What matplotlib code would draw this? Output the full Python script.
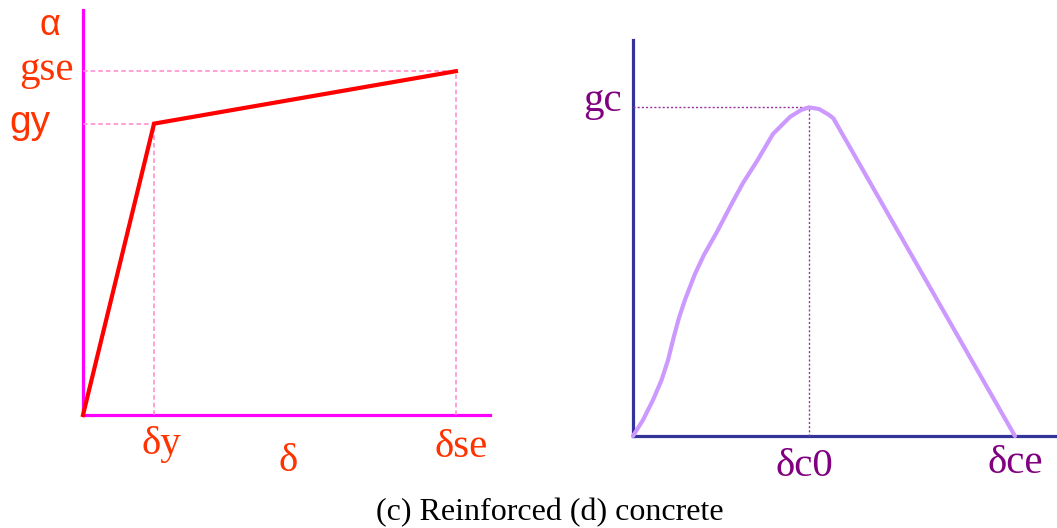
import matplotlib
matplotlib.use("Agg")
import matplotlib.pyplot as plt

# (c) reinforcing steel: bilinear skeleton curve
steel_delta = [0.0, 1.0, 5.25]          # 0, delta_y, delta_se
steel_alpha = [0.0, 1.0, 1.18]          # 0, g_y, g_se
steel_xlim = 5.73
steel_ylim = 1.39

# (d) concrete: rising curve to the peak, then linear softening
conc_delta = [0.0, 0.057, 0.114, 0.162, 0.199, 0.233, 0.261, 0.295, 0.352,
              0.403, 0.477, 0.557, 0.625, 0.705, 0.795, 0.892, 0.955, 1.0,
              1.057, 1.108, 1.138, 2.170]
conc_alpha = [0.0, 0.049, 0.110, 0.170, 0.231, 0.304, 0.359, 0.414, 0.493,
              0.551, 0.621, 0.703, 0.770, 0.837, 0.919, 0.971, 0.992, 1.0,
              0.995, 0.979, 0.967, 0.0]
conc_peak = (1.0, 1.0)                  # delta_c0, g_c
conc_end = 2.170                        # delta_ce
conc_xlim = 2.409
conc_ylim = 1.205

SERIF = "Liberation Serif"
SANS = "Liberation Sans"
RED_TXT = "#ff3300"
PURPLE_TXT = "#800080"

W, H = 1057, 528
fig = plt.figure(figsize=(W / 100, H / 100), dpi=100)


def px_axes(x0, y0, x1, y1):
    # axes rectangle given by pixel corners (top-left origin)
    return fig.add_axes([x0 / W, 1 - y1 / H, (x1 - x0) / W, (y1 - y0) / H])


def style_axes(ax, color, xlim, ylim):
    ax.set_xlim(0, xlim)
    ax.set_ylim(0, ylim)
    for s in ("top", "right"):
        ax.spines[s].set_visible(False)
    for s in ("left", "bottom"):
        ax.spines[s].set_color(color)
        ax.spines[s].set_linewidth(2.3)
        ax.spines[s].set_zorder(1)
    ax.set_xticks([])
    ax.set_yticks([])
    ax.patch.set_alpha(0)


def label(ax, text, xy, xycoords, offset, color, family, size=29.5):
    ax.annotate(text, xy=xy, xycoords=xycoords, xytext=offset,
                textcoords="offset points", ha="center", va="baseline",
                color=color, fontsize=size, family=family,
                annotation_clip=False)


# ---------------- left panel: steel ----------------
ax1 = px_axes(83, 10, 490, 415)
style_axes(ax1, "#ff00ff", steel_xlim, steel_ylim)

guide = dict(color="#ff88cc", lw=1.1, ls=(0, (3, 2)), zorder=2, clip_on=False)
for dx, ay in zip(steel_delta[1:], steel_alpha[1:]):
    ax1.plot([0, dx], [ay, ay], **guide)
    ax1.plot([dx, dx], [0, ay], **guide)

ax1.plot(steel_delta, steel_alpha, color="#ff0000", lw=3.0,
         solid_joinstyle="miter", zorder=3, clip_on=False)

label(ax1, "α", (0, 1), "axes fraction", (-24, -18), RED_TXT, SANS, size=26)
label(ax1, "gse", (0, steel_alpha[2]), ("axes fraction", "data"), (-26, -6.5),
      RED_TXT, SERIF)
label(ax1, "gy", (0, steel_alpha[1]), ("axes fraction", "data"), (-38, -6.5),
      RED_TXT, SANS, size=28)
label(ax1, "δy", (steel_delta[1], 0), ("data", "axes fraction"), (5, -28),
      RED_TXT, SERIF)
label(ax1, "δse", (steel_delta[2], 0), ("data", "axes fraction"), (3.6, -30),
      RED_TXT, SERIF)
label(ax1, "δ", (0.504, 0), "axes fraction", (0, -40), RED_TXT, SERIF)

# ---------------- right panel: concrete ----------------
ax2 = px_axes(633, 40, 1057, 436)
style_axes(ax2, "#333399", conc_xlim, conc_ylim)

dots = dict(color="#993399", lw=1.0, ls=(0, (1.5, 1.5)), zorder=2, clip_on=False)
ax2.plot([0, conc_peak[0]], [conc_peak[1], conc_peak[1]], **dots)
ax2.plot([conc_peak[0], conc_peak[0]], [0, conc_peak[1]], **dots)

ax2.plot(conc_delta, conc_alpha, color="#cc99ff", lw=3.0,
         solid_joinstyle="round", solid_capstyle="round", zorder=3,
         clip_on=False)

label(ax2, "gc", (0, conc_peak[1]), ("axes fraction", "data"), (-21.6, -2.7),
      PURPLE_TXT, SERIF)
label(ax2, "δc0", (conc_peak[0], 0), ("data", "axes fraction"), (-3.2, -29),
      PURPLE_TXT, SERIF)
label(ax2, "δce", (conc_end, 0), ("data", "axes fraction"), (0, -26.4),
      PURPLE_TXT, SERIF)

fig.text(550 / W, 1 - 520 / H, "(c) Reinforced (d) concrete", ha="center",
         va="baseline", fontsize=23, family=SERIF, color="black")

fig.savefig("out.png", dpi=100, facecolor="white")
